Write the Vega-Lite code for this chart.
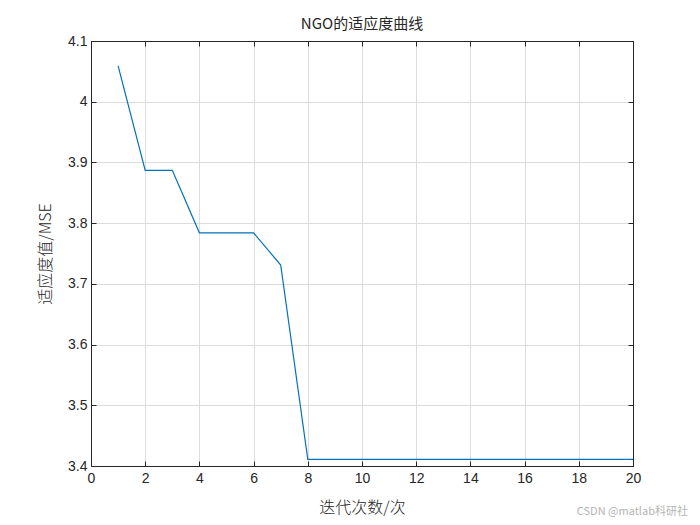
{
  "$schema": "https://vega.github.io/schema/vega-lite/v6.json",
  "autosize": "none",
  "width": 542,
  "height": 425,
  "padding": {"left": 91, "top": 41, "right": 67, "bottom": 59},
  "background": "white",
  "config": {
    "font": "Liberation Sans",
    "view": {"stroke": "#262626", "strokeWidth": 1},
    "axis": {
      "domainColor": "#262626",
      "tickColor": "#262626",
      "labelColor": "#262626",
      "labelFont": "Liberation Sans",
      "labelFontSize": 14,
      "labelFlush": false,
      "titleFont": "Noto Sans CJK SC",
      "titleFontSize": 16,
      "titleFontWeight": 300,
      "titleColor": "#262626",
      "gridColor": "#dcdcdc",
      "gridWidth": 1,
      "tickSize": -5,
      "labelPadding": 12
    }
  },
  "title": {
    "text": "NGO的适应度曲线",
    "font": "Noto Sans CJK SC",
    "fontSize": 15,
    "fontWeight": "normal",
    "color": "#262626",
    "offset": 2
  },
  "data": {
    "values": [
      {"iter": 1, "fit": 4.059},
      {"iter": 2, "fit": 3.887},
      {"iter": 3, "fit": 3.887},
      {"iter": 4, "fit": 3.784},
      {"iter": 5, "fit": 3.784},
      {"iter": 6, "fit": 3.784},
      {"iter": 7, "fit": 3.731},
      {"iter": 8, "fit": 3.411},
      {"iter": 9, "fit": 3.411},
      {"iter": 10, "fit": 3.411},
      {"iter": 11, "fit": 3.411},
      {"iter": 12, "fit": 3.411},
      {"iter": 13, "fit": 3.411},
      {"iter": 14, "fit": 3.411},
      {"iter": 15, "fit": 3.411},
      {"iter": 16, "fit": 3.411},
      {"iter": 17, "fit": 3.411},
      {"iter": 18, "fit": 3.411},
      {"iter": 19, "fit": 3.411},
      {"iter": 20, "fit": 3.411}
    ]
  },
  "layer": [
    {
      "mark": {"type": "line", "color": "#0072BD", "strokeWidth": 1.2},
      "encoding": {
        "x": {
          "field": "iter", "type": "quantitative",
          "scale": {"domain": [0, 20], "nice": false, "zero": false},
          "axis": {"orient": "bottom", "values": [0,2,4,6,8,10,12,14,16,18,20], "grid": true, "title": "迭代次数/次", "titlePadding": 14, "labelPadding": 10}
        },
        "y": {
          "field": "fit", "type": "quantitative",
          "scale": {"domain": [3.4, 4.1], "nice": false, "zero": false},
          "axis": {"orient": "left", "values": [3.4,3.5,3.6,3.7,3.8,3.9,4.0,4.1], "format": "~g", "grid": true, "title": "适应度值/MSE", "titlePadding": 14, "labelPadding": 9}
        }
      }
    },
    {
      "mark": {"type": "line", "opacity": 0},
      "encoding": {
        "x": {
          "field": "iter", "type": "quantitative",
          "scale": {"domain": [0, 20], "nice": false, "zero": false},
          "axis": {"orient": "top", "values": [0,2,4,6,8,10,12,14,16,18,20], "labels": false, "grid": false, "title": null}
        },
        "y": {
          "field": "fit", "type": "quantitative",
          "scale": {"domain": [3.4, 4.1], "nice": false, "zero": false},
          "axis": {"orient": "right", "values": [3.4,3.5,3.6,3.7,3.8,3.9,4.0,4.1], "labels": false, "grid": false, "title": null}
        }
      }
    },
    {
      "data": {"values": [{"label": "CSDN @matlab科研社"}]},
      "mark": {"type": "text", "align": "right", "baseline": "middle", "dy": 46, "dx": 55, "color": "#b4b4b4", "fontSize": 11, "font": "Noto Sans CJK SC"},
      "encoding": {
        "x": {"datum": 20, "type": "quantitative", "axis": null},
        "y": {"datum": 3.4, "type": "quantitative", "axis": null},
        "text": {"field": "label"}
      }
    }
  ],
  "resolve": {"axis": {"x": "independent", "y": "independent"}}
}
